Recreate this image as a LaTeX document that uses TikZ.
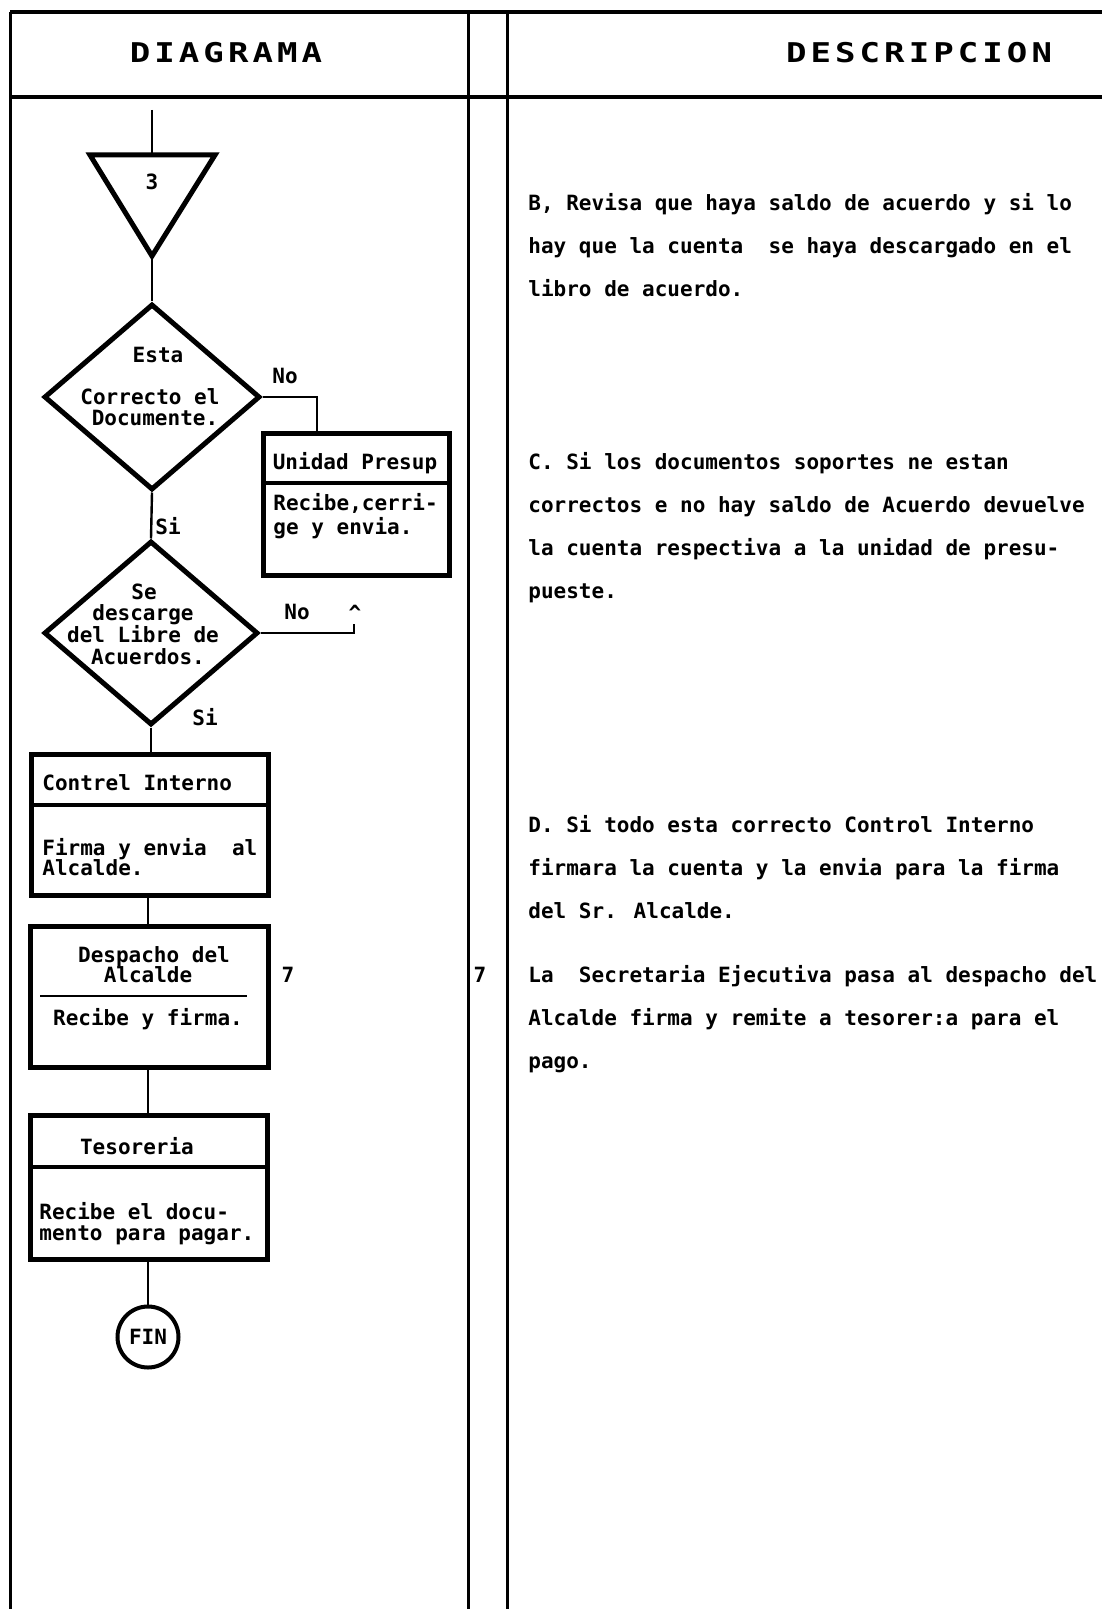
\documentclass[tikz,border=0pt]{standalone}
\usepackage{fontspec}
\usetikzlibrary{shapes.geometric}
\newfontfamily\dotmono{DejaVu Sans Mono}
\newfontfamily\capsfont[LetterSpace=15,FakeStretch=1.25]{DejaVu Sans Mono}
\newcommand\dgfont{\dotmono\bfseries\fontsize{10.5}{10}\selectfont}
\newcommand\hdfont{\capsfont\bfseries\fontsize{13.6}{14}\selectfont}
\tikzset{
  frame/.style={line width=1.5pt},
  heavyrule/.style={line width=2pt},
  conn/.style={line width=1.2pt},
  procbox/.style={draw, rectangle, line width=2.5pt, inner sep=0pt},
  decision/.style={draw, diamond, line width=2.5pt, inner sep=0pt},
  divider/.style={line width=2pt},
  thinrule/.style={line width=1pt},
  txt/.style={font=\dgfont, inner sep=0pt, anchor=base},
  txtl/.style={txt, anchor=base west},
  head/.style={font=\hdfont, inner sep=0pt},
}
\begin{document}
\begin{tikzpicture}[x=0.5pt,y=-0.5pt]
\useasboundingbox (0,0) rectangle (1102,1609);

% ---- table frame ----
\draw[heavyrule] (10,12) -- (1102,12);
\draw[heavyrule] (10,97) -- (1102,97);
\draw[frame] (10,12) -- (10,1609);
\draw[frame] (468,12) -- (468,1609);
\draw[frame] (507,12) -- (507,1609);
\node[head] (hdiag) at (226,53) {DIAGRAMA};
\node[head] (hdesc) at (919,53) {DESCRIPCION};

% ---- off-page connector 3 ----
\coordinate (in) at (152,110);
\coordinate (ttop) at (152,153);
\coordinate (tl) at (90,155);
\coordinate (tr) at (215,155);
\coordinate (tb) at (152,256);
\draw[line width=2.5pt] (tl) -- (tr) -- (tb) -- cycle;
\node[txt] (m3) at (152,190) {3};
\draw[conn] (in) -- (ttop);

% ---- first decision ----
\node[decision, minimum width=108pt, minimum height=93pt] (d1) at (152,397) {};
\node[txt] (d1a) at (158,363) {Esta};
\node[txt] (d1b) at (150,405) {Correcto el};
\node[txt] (d1c) at (155,425) {Documente.};
\draw[conn] (tb) -- (d1.north);

% ---- Unidad Presup ----
\node[procbox, minimum width=93pt, minimum height=71pt] (up) at (356.5,504.5) {};
\draw[divider] (up.west |- 0,483) -- (up.east |- 0,483);
\node[txt] (upt) at (355,469) {Unidad Presup};
\node[txtl] (upb1) at (273,510) {Recibe,cerri-};
\node[txtl] (upb2) at (273,534) {ge y envia.};
\coordinate (upin) at (317,433);
\draw[conn] (d1.east) -| (upin);
\node[txt] (no1) at (285,384) {No};

% ---- second decision ----
\node[decision, minimum width=107pt, minimum height=92pt] (d2) at (151,633) {};
\node[txt] (d2a) at (144,599) {Se};
\node[txt] (d2b) at (143,620) {descarge};
\node[txt] (d2c) at (143,642) {del Libre de};
\node[txt] (d2d) at (148,664) {Acuerdos.};
\draw[conn] (d1.south) -- (d2.north);
\node[txt] (si1) at (168,534) {Si};
\coordinate (ret) at (354,624);
\draw[conn] (d2.east) -| (ret);
\node[txt] (no2) at (297,619) {No};
\node[txt] (up2) at (355,620) {\textasciicircum};
\node[txt] (si2) at (205,725) {Si};

% ---- Control Interno ----
\node[procbox, minimum width=118.5pt, minimum height=70.5pt] (ci) at (150,825) {};
\draw[divider] (ci.west |- 0,805) -- (ci.east |- 0,805);
\node[txtl] (cit) at (42,790) {Contrel Interno};
\node[txtl] (cib1) at (42,855) {Firma y envia\ \ al};
\node[txtl] (cib2) at (42,875) {Alcalde.};
\draw[conn] (d2.south) -- (d2.south |- ci.north);

% ---- Despacho del Alcalde ----
\node[procbox, minimum width=119pt, minimum height=70.5pt] (da) at (149.5,997) {};
\draw[thinrule] (40,996) -- (247,996);
\node[txt] (dat1) at (154,962) {Despacho del};
\node[txt] (dat2) at (148,982) {Alcalde};
\node[txt] (dab) at (148,1025) {Recibe y firma.};
\draw[conn] (ci.south -| 148,0) -- (da.north -| 148,0);
\node[txt] (ref1) at (288,982) {7};

% ---- Tesoreria ----
\node[procbox, minimum width=118.5pt, minimum height=72pt] (ts) at (149,1187.5) {};
\draw[divider] (ts.west |- 0,1167) -- (ts.east |- 0,1167);
\node[txt] (tst) at (137,1154) {Tesoreria};
\node[txtl] (tsb1) at (39,1219) {Recibe el docu-};
\node[txtl] (tsb2) at (39,1240) {mento para pagar.};
\draw[conn] (da.south -| 148,0) -- (ts.north -| 148,0);

% ---- end ----
\node[draw, circle, line width=2pt, minimum size=30.5pt, inner sep=0pt, font=\dgfont] (fin) at (148,1337) {FIN};
\draw[conn] (ts.south -| fin.north) -- (fin.north);

% ---- description column ----
\node[txtl] (b1) at (528,211) {B, Revisa que haya saldo de acuerdo y si lo};
\node[txtl] (b2) at (528,254) {hay que la cuenta\ \ se haya descargado en el};
\node[txtl] (b3) at (528,297) {libro de acuerdo.};

\node[txtl] (c1) at (528,469) {C. Si los documentos soportes ne estan};
\node[txtl] (c2) at (528,512) {correctos e no hay saldo de Acuerdo devuelve};
\node[txtl] (c3) at (528,555) {la cuenta respectiva a la unidad de presu-};
\node[txtl] (c4) at (528,598) {pueste.};

\node[txtl] (e1) at (528,832) {D. Si todo esta correcto Control Interno};
\node[txtl] (e2) at (528,875) {firmara la cuenta y la envia para la firma};
\node[txtl] (e3) at (528,918) {del Sr. Alcalde.};

\node[txt] (ref2) at (480,982) {7};
\node[txtl] (f1) at (528,982) {La\ \ Secretaria Ejecutiva pasa al despacho del};
\node[txtl] (f2) at (528,1025) {Alcalde firma y remite a tesorer:a para el};
\node[txtl] (f3) at (528,1068) {pago.};
\end{tikzpicture}
\end{document}
